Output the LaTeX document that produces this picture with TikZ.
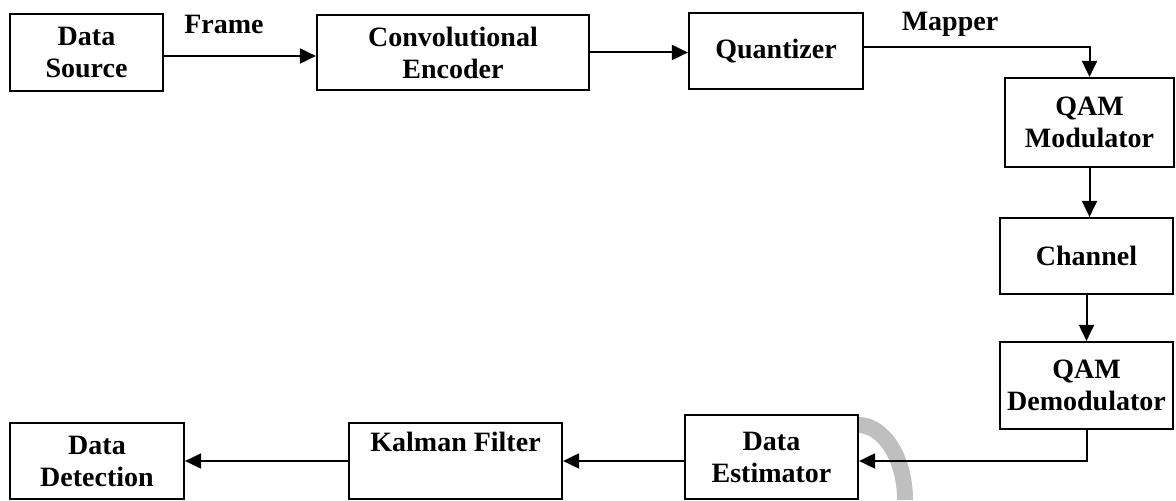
\documentclass[tikz,border=0pt]{standalone}
\usepackage{fontspec}
\setmainfont{Liberation Serif}
\usetikzlibrary{positioning, arrows.meta}
\tikzset{
	blk/.style={draw, line width=1.1pt, fill=white, align=center, inner sep=0pt,
		font=\fontsize{14}{16}\selectfont\bfseries},
	lbl/.style={inner sep=0pt, font=\fontsize{14}{16}\selectfont\bfseries},
	arr/.style={line width=1pt, -{Triangle[length=8pt,width=7.5pt]}},
	ln/.style={line width=1pt}
}

\begin{document}
\begin{tikzpicture}[x=0.5pt, y=-0.5pt]
\useasboundingbox (0,0) rectangle (1176,501);
% scan mark behind the estimator
\draw[black!25, line width=8pt] (858,425) arc[start angle=90, end angle=0, x radius=23.5pt, y radius=37.5pt];
\node (src) [blk, minimum width=76.5pt, minimum height=38.5pt] at (86.5,52.5) {Data\\Source};
\node (enc) [blk, minimum width=136pt, minimum height=37.5pt] at (453,52.5) {Convolutional\\Encoder};
\node (quant) [blk, minimum width=87pt, minimum height=38pt] at (776,51) {Quantizer};
\node (mod) [blk, minimum width=84.5pt, minimum height=44.5pt] at (1089.5,122.5) {QAM\\Modulator};
\node (chan) [blk, minimum width=86.5pt, minimum height=38pt] at (1086.5,256) {Channel};
\node (demod) [blk, minimum width=86.5pt, minimum height=43.5pt] at (1086.5,385.5) {QAM\\Demodulator};
\node (est) [blk, minimum width=86.5pt, minimum height=42pt] at (771.5,457) {Data\\Estimator};
\node (kal) [blk, minimum width=106.5pt, minimum height=38pt] at (455.5,461) {Kalman Filter\\\phantom{Ky}};
\node (det) [blk, minimum width=87pt, minimum height=38pt] at (97,461) {Data\\Detection};
\node (frame) [lbl] at (224,24) {Frame};
\node (mapper) [lbl] at (950,24) {Mapper};
\draw[arr] ([yshift=-1.75pt]src.east) -- ([yshift=-1.75pt]src.east -| enc.west);
\draw[arr] (enc.east) -- (enc.east -| quant.west);
\draw[arr] ([yshift=2pt]quant.east) -| (mod.north);
\draw[arr] (mod.south) -- (mod.south |- chan.north);
\draw[arr] (chan.south) -- (chan.south |- demod.north);
\draw[arr] (demod.south) |- ([yshift=-2pt]est.east);
\draw[arr] (kal.east -| est.west) -- (kal.east);
\draw[arr] (kal.west) -- (det.east);
\end{tikzpicture}
\end{document}
